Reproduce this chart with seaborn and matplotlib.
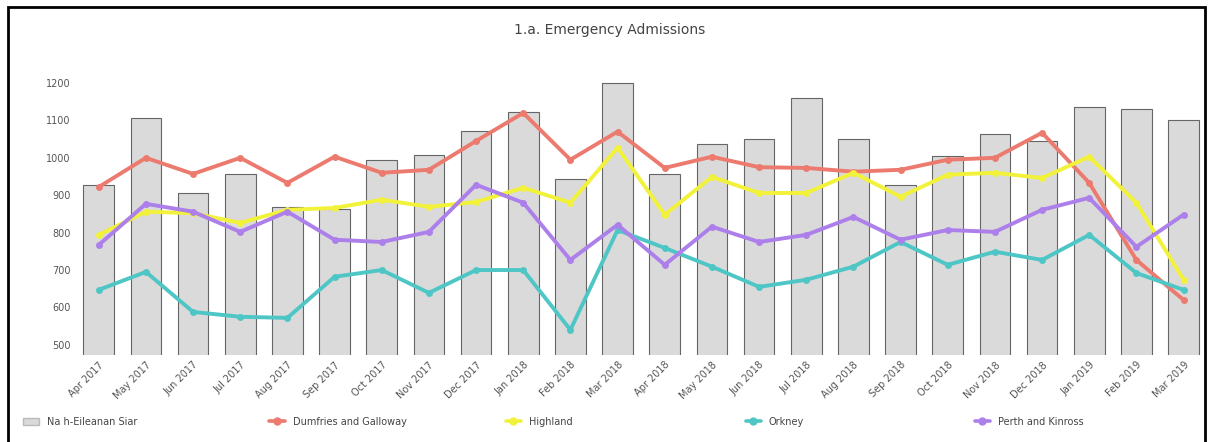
import pandas as pd
import matplotlib.pyplot as plt
import matplotlib.patches as mpatches
import seaborn as sns

# months on the x axis
months = ['Apr 2017', 'May 2017', 'Jun 2017', 'Jul 2017', 'Aug 2017', 'Sep 2017',
          'Oct 2017', 'Nov 2017', 'Dec 2017', 'Jan 2018', 'Feb 2018', 'Mar 2018',
          'Apr 2018', 'May 2018', 'Jun 2018', 'Jul 2018', 'Aug 2018', 'Sep 2018',
          'Oct 2018', 'Nov 2018', 'Dec 2018', 'Jan 2019', 'Feb 2019', 'Mar 2019']

# bars
eileanan_siar = [928, 1107, 906, 957, 869, 864, 995, 1008, 1072, 1123, 944, 1200,
                 957, 1037, 1051, 1160, 1051, 927, 1005, 1064, 1046, 1136, 1131, 1102]

# peer lines
dumfries = [922, 1000, 957, 1000, 933, 1003, 960, 968, 1045, 1120, 995, 1070,
            973, 1003, 975, 973, 963, 968, 995, 1000, 1067, 933, 727, 620]
highland = [794, 856, 852, 826, 861, 866, 888, 869, 882, 920, 880, 1027,
            848, 949, 906, 906, 960, 896, 955, 960, 946, 1003, 880, 674]
orkney = [647, 695, 588, 575, 572, 682, 700, 639, 700, 700, 540, 807,
          759, 709, 655, 674, 709, 775, 714, 749, 727, 794, 692, 647]
perth = [767, 877, 856, 802, 856, 781, 775, 802, 928, 880, 727, 821,
         714, 816, 775, 794, 842, 781, 807, 802, 861, 893, 762, 848]

series_names = ['Dumfries and Galloway', 'Highland', 'Orkney', 'Perth and Kinross']
series_vals = [dumfries, highland, orkney, perth]
colours = ['#ec7a6e', '#f2f23a', '#4fc6c6', '#ad7fea']
bar_label = 'Na h-Eileanan Siar'

bars = pd.DataFrame({'pos': range(len(months)), 'month': months, 'value': eileanan_siar})
rows = []
for name, vals in zip(series_names, series_vals):
    for i, v in enumerate(vals):
        rows.append({'pos': i, 'area': name, 'value': v})
lines = pd.DataFrame(rows)

sns.set_style('white')
fig = plt.figure(figsize=(12.12, 4.42), dpi=100)
ax = fig.add_axes([0.062, 0.197, 0.934, 0.649])

sns.barplot(data=bars, x='pos', y='value', color='#dadada', width=0.65,
            edgecolor='#666666', linewidth=0.8, ax=ax)
sns.lineplot(data=lines, x='pos', y='value', hue='area', palette=colours,
             marker='o', markersize=5, markeredgewidth=0, linewidth=2.8,
             ax=ax, legend=False)

ax.set_xlim(-0.5, len(months) - 0.5)
ax.set_ylim(473, 1240)
ax.set_yticks(range(500, 1201, 100))
ax.set_xticks(range(len(months)))
ax.set_xticklabels(months, rotation=45, ha='right', rotation_mode='anchor')
ax.tick_params(axis='both', labelsize=7, labelcolor='#555555', length=0)
ax.set_xlabel('')
ax.set_ylabel('')
for s in ax.spines.values():
    s.set_visible(False)

fig.text(0.503, 0.932, '1.a. Emergency Admissions', ha='center', va='center',
         fontsize=10, color='#444444')

# legend entries spread along the bottom
handles = [mpatches.Patch(facecolor='#dadada', edgecolor='#bbbbbb', label=bar_label)]
for name, c in zip(series_names, colours):
    handles.append(plt.Line2D([], [], color=c, marker='o', markersize=5,
                              linewidth=2.6, label=name))
legend_x = [0.012, 0.215, 0.41, 0.608, 0.797]
for h, lx in zip(handles, legend_x):
    fig.legend(handles=[h], loc='lower left', bbox_to_anchor=(lx, 0.015),
               frameon=False, fontsize=7, handlelength=1.6, labelcolor='#444444')

# outer frame of the chart
fig.patches.append(mpatches.Rectangle((0.007, -0.01), 0.987, 0.995, transform=fig.transFigure,
                                      fill=False, edgecolor='black', linewidth=2))

fig.savefig('out.png', dpi=100)
